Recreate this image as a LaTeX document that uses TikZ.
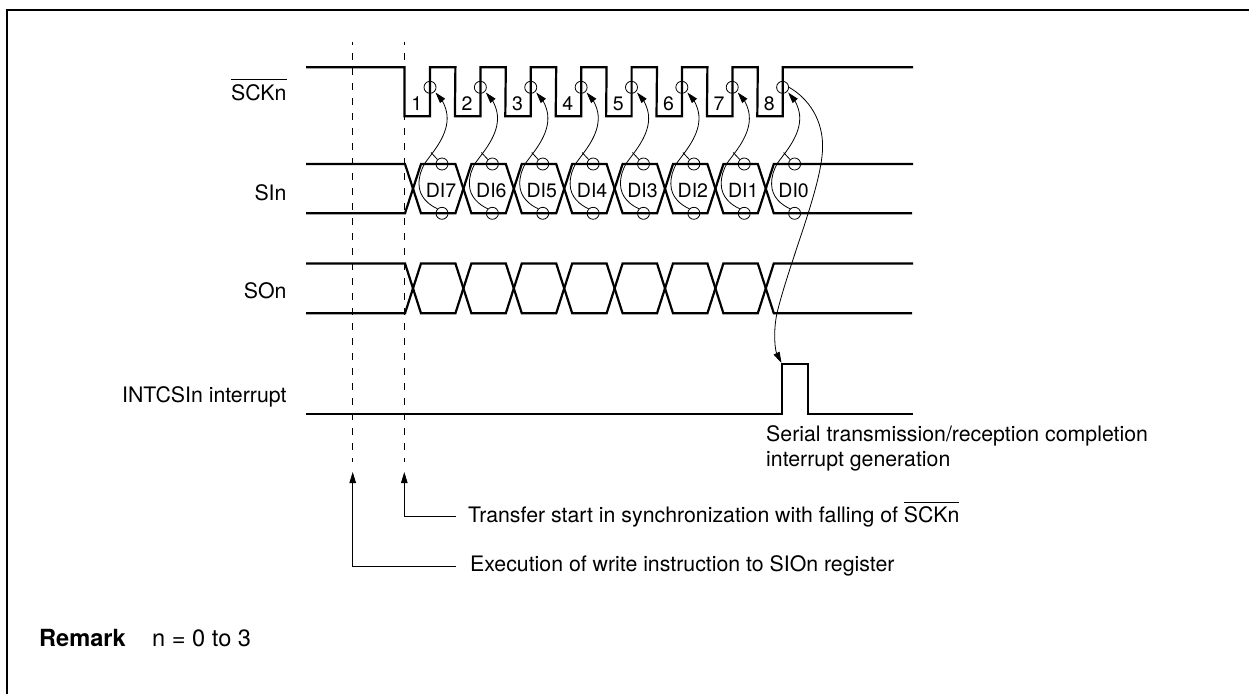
\documentclass[tikz,border=0pt]{standalone}
\usepackage{fontspec}
\setmainfont{TeX Gyre Heros}
\usetikzlibrary{arrows.meta}
\newcommand{\sckbar}{\setbox0=\hbox{SCKn}\hbox{\rlap{\vrule width\wd0 height 21pt depth -20.2pt}\box0}}
\tikzset{
  sig/.style={line width=2.2pt,line join=miter,line cap=butt},
  frameline/.style={line width=2.6pt},
  dash line/.style={line width=0.9pt,dash pattern=on 7pt off 8pt,dash phase=4pt},
  thin curve/.style={line width=0.8pt},
  leader/.style={line width=0.9pt},
  tip/.style={-{Triangle[length=11pt,width=6.5pt]}},
  probe/.style={circle,draw,line width=0.8pt,minimum size=12pt,inner sep=0pt},
  txt/.style={inner sep=0pt,font=\fontsize{21.3}{25}\selectfont},
  lbl/.style={txt,anchor=base west},
  rlbl/.style={txt,anchor=base east},
  clbl/.style={inner sep=0pt,anchor=base,font=\fontsize{19.5}{23}\selectfont},
  rmk/.style={inner sep=0pt,anchor=base west,font=\fontsize{23.6}{28}\selectfont}
}
\begin{document}
\begin{tikzpicture}[x=1pt,y=-1pt]
\useasboundingbox (0,0) rectangle (1249,694);
\fill[white] (0,0) rectangle (1249,694);
\draw[frameline] (1249,10) -- (7,10) -- (7,694);

% dashed
\coordinate (d1t) at (352.7,42); \coordinate (d1b) at (352.7,462);
\coordinate (d2t) at (404.3,42); \coordinate (d2b) at (404.3,462);
\draw[dash line] (d1t) -- (d1b);
\draw[dash line] (d2t) -- (d2b);

% SCK
\draw[sig] (306,67.3) -- (404.5,67.3)
  \foreach \i in {0,...,6}{
    -- ({404.5+50.4*\i},116.2) -- ({430+50.4*\i},116.2) -- ({430+50.4*\i},67.3)
    -- ({455.4+50.4*\i},67.3)
  }
  -- (757.3,116.2) -- (782.8,116.2) -- (782.8,67.3) -- (913,67.3);

% SI and SO
\foreach \t/\b in {164/213.3,263.4/313.3}{
  \draw[sig] (306,\t)
    \foreach \i/\u/\v in {0/\t/\b,1/\b/\t,2/\t/\b,3/\b/\t,4/\t/\b,5/\b/\t,6/\t/\b,7/\b/\t}{
      -- ({405+50.4*\i},\u) -- ({421+50.4*\i},\v)
    } -- (913,\t);
  \draw[sig] (306,\b)
    \foreach \i/\u/\v in {0/\b/\t,1/\t/\b,2/\b/\t,3/\t/\b,4/\b/\t,5/\t/\b,6/\b/\t,7/\t/\b}{
      -- ({405+50.4*\i},\u) -- ({421+50.4*\i},\v)
    } -- (912,\b);
}

% INT
\draw[sig] (306,414) -- (782.3,414) -- (782.3,364.3) -- (808,364.3) -- (808,414) -- (912.7,414);

% pulse numbers, data labels, probes, arrows
\foreach \i/\d [evaluate=\i as \dx using {50.37*(\i-1)}] in {1/7,2/6,3/5,4/4,5/3,6/2,7/1,8/0}{
  \node[clbl] (num\i) at ({416.7+\dx},110.7) {\i};
  \node[clbl] (di\i) at ({441+\dx},197.7) {DI\d};
  \node[probe] (ck\i) at ({430+\dx},87.3) {};
  \node[probe] (st\i) at ({442+\dx},164) {};
  \node[probe] (sb\i) at ({442+\dx},213.3) {};
  \draw[thin curve,tip] (sb\i.north west)
     .. controls ({429+\dx},205) and ({419+\dx},197) .. ({419+\dx},184)
     .. controls ({419+\dx},176) and ({421+\dx},170) .. ({425+\dx},163)
     .. controls ({432+\dx},153) and ({449+\dx},135) .. ({447+\dx},115)
     .. controls ({446+\dx},106) and ({441+\dx},99) .. ({435.5+\dx},92.5);
  \draw[thin curve] (st\i.north west) -- ({431+\dx},152.5);
}

% big arrow
\draw[thin curve,tip] (ck8.east) .. controls (808,98) and (824,120) .. (822.5,150)
   .. controls (820.5,190) and (790,260) .. (777,313)
   .. controls (773,332) and (775,350) .. (781.5,363);

% labels
\node[rlbl] (lsck) at (286.7,100) {\sckbar};
\node[rlbl] (lsi) at (286.7,200) {SIn};
\node[rlbl] (lso) at (286.7,298) {SOn};
\node[rlbl] (lint) at (286.7,402) {INTCSIn interrupt};
\node[lbl] (ser1) at (766,441.7) {Serial transmission/reception completion};
\node[lbl] (ser2) at (766,466.7) {interrupt generation};
\node[lbl] (ltr) at (468,522.5) {Transfer start in synchronization with falling of \sckbar};
\node[lbl] (lex) at (470,571.7) {Execution of write instruction to SIOn register};
\node[rmk] (rem) at (39,646.7) {\textbf{Remark}};
\node[rmk] (remt) at (152,646.7) {n = 0 to 3};

% leaders
\coordinate (e2) at (455.7,516);
\coordinate (e1) at (455.7,566);
\coordinate (a2) at (404.3,472);
\coordinate (a1) at (352.7,472);
\draw[leader,tip] (e2) -| (a2);
\draw[leader,tip] (e1) -| (a1);
\end{tikzpicture}
\end{document}
